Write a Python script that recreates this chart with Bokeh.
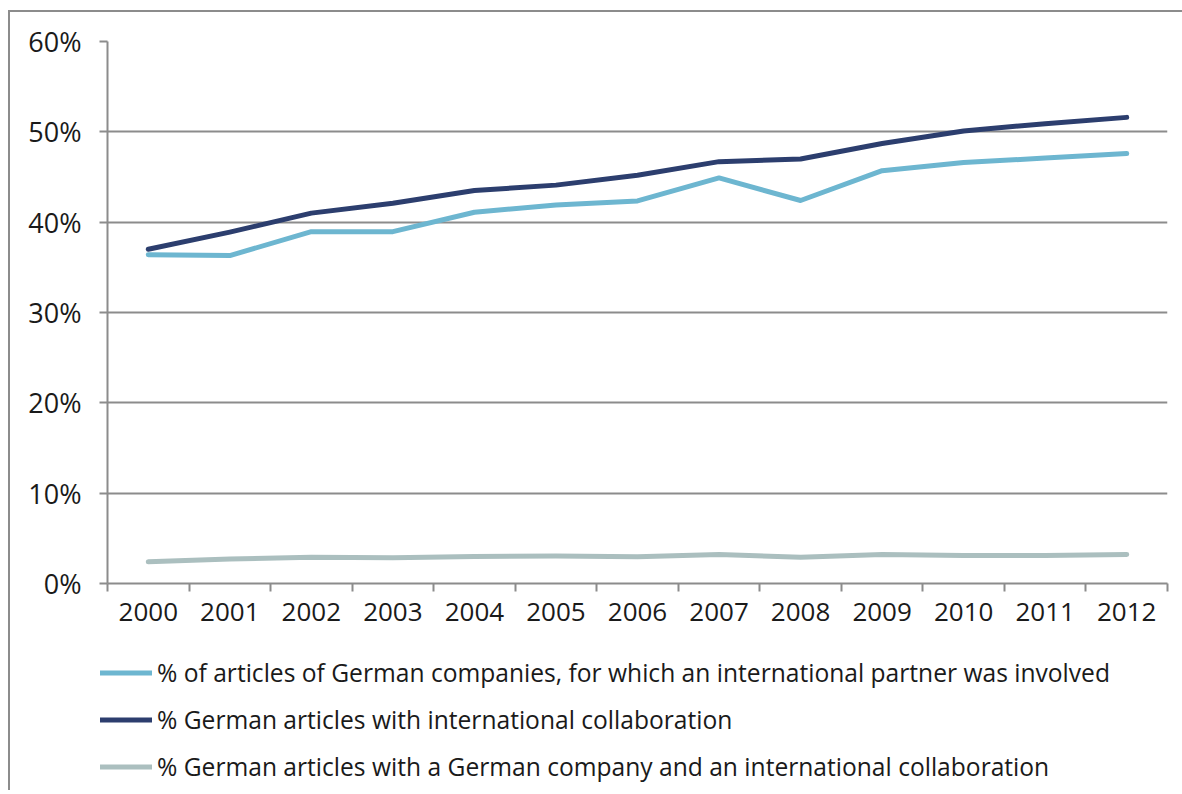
from bokeh.plotting import figure
from bokeh.layouts import column
from bokeh.models import (ColumnDataSource, FixedTicker, Legend, LegendItem, Range1d)
from bokeh.embed import file_html
from bokeh.resources import INLINE

years = ["2000", "2001", "2002", "2003", "2004", "2005", "2006",
         "2007", "2008", "2009", "2010", "2011", "2012"]
share_company_intl = [36.4, 36.3, 38.95, 38.95, 41.1, 41.9, 42.35,
                      44.9, 42.4, 45.7, 46.6, 47.1, 47.6]
share_intl_collab = [37.0, 38.9, 41.0, 42.1, 43.5, 44.1, 45.2,
                     46.7, 47.0, 48.7, 50.1, 50.9, 51.6]
share_company_and_intl = [2.4, 2.7, 2.9, 2.85, 3.0, 3.05, 2.95,
                          3.2, 2.9, 3.2, 3.1, 3.1, 3.2]
labels = [
    "% of articles of German companies, for which an international partner was involved",
    "% German articles with international collaboration",
    "% German articles with a German company and an international collaboration",
]
y_ticks = [0, 10, 20, 30, 40, 50, 60]

FONT = "Open Sans"
TEXT = "#1a1a1a"
GRID = "#8c8c8c"
colors = ["#6db6d0", "#2c3e6e", "#abbfbf"]

xpos = [i + 0.5 for i in range(len(years))]
src = ColumnDataSource(dict(x=xpos, a=share_company_intl, b=share_intl_collab,
                            c=share_company_and_intl))

W = 1172
p = figure(width=W, height=630, output_backend="svg", toolbar_location=None,
           x_range=Range1d(0, len(years)), y_range=Range1d(0, 60),
           min_border_left=97, min_border_right=15, min_border_top=29,
           min_border_bottom=59)
p.frame_align = False
p.outline_line_color = None
p.background_fill_color = "white"
p.border_fill_color = "white"

for col, c in zip(["a", "b", "c"], colors):
    p.line("x", col, source=src, line_color=c, line_width=5,
           line_cap="round", line_join="round")

# x axis: labels at centres, ticks at boundaries
p.xaxis.ticker = FixedTicker(ticks=xpos, minor_ticks=list(range(len(years) + 1)))
p.xaxis.major_label_overrides = {x: y for x, y in zip(xpos, years)}
p.xaxis.major_tick_line_color = None
p.xaxis.minor_tick_line_color = GRID
p.xaxis.minor_tick_line_width = 2
p.xaxis.minor_tick_out = 8
p.xaxis.minor_tick_in = 0
p.xaxis.axis_line_color = GRID
p.xaxis.axis_line_width = 2
p.xaxis.major_label_text_font = FONT
p.xaxis.major_label_text_font_size = "26px"
p.xaxis.major_label_text_color = TEXT
p.xaxis.major_label_standoff = 11
p.xgrid.grid_line_color = None

p.yaxis.ticker = FixedTicker(ticks=y_ticks)
p.yaxis.major_label_overrides = {t: f"{t}%" for t in y_ticks}
p.yaxis.minor_tick_line_color = None
p.yaxis.major_tick_line_color = GRID
p.yaxis.major_tick_line_width = 2
p.yaxis.major_tick_out = 8
p.yaxis.major_tick_in = 0
p.yaxis.axis_line_color = GRID
p.yaxis.axis_line_width = 2
p.yaxis.major_label_text_font = FONT
p.yaxis.major_label_text_font_size = "27px"
p.yaxis.major_label_text_color = TEXT
p.yaxis.major_label_standoff = 18
p.ygrid.grid_line_color = GRID
p.ygrid.grid_line_width = 2
p.ygrid.ticker = FixedTicker(ticks=y_ticks)

# legend panel (separate figure below the chart); its lines lie outside its view
lg = figure(width=W, height=148, output_backend="svg", toolbar_location=None,
            x_range=Range1d(-100, -99), y_range=Range1d(-100, -99),
            min_border=0, x_axis_location=None, y_axis_location=None)
lg.frame_align = False
lg.outline_line_color = None
lg.xgrid.grid_line_color = None
lg.ygrid.grid_line_color = None
lg.border_fill_color = "white"
leg_renderers = []
for col, c in zip(["a", "b", "c"], colors):
    leg_renderers.append(lg.line("x", col, source=src, line_color=c, line_width=5,
                                 line_cap="round", line_join="round"))

legend = Legend(items=[LegendItem(label=l, renderers=[r]) for l, r in zip(labels, leg_renderers)],
                location=(90, 0), orientation="vertical",
                glyph_width=52, glyph_height=47, label_standoff=5, spacing=0,
                padding=0, margin=0, border_line_color=None, background_fill_alpha=0,
                label_text_font=FONT, label_text_font_size="24.6px", label_text_color=TEXT)
lg.add_layout(legend, "center")

layout = column(p, lg, spacing=0,
                styles={"border-left": "2px solid #8c8c8c", "border-top": "2px solid #8c8c8c",
                        "margin-top": "10px", "margin-left": "8px"})

open("out.html", "w").write(file_html(layout, INLINE))
